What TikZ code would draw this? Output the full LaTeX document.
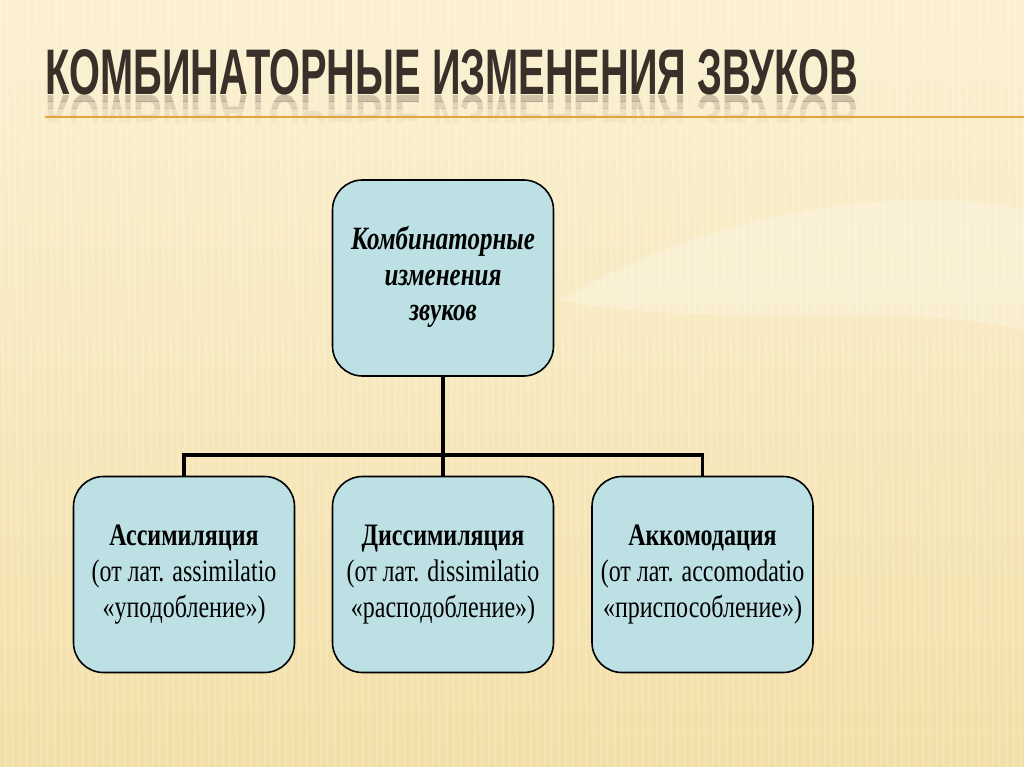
\documentclass[tikz,border=0pt]{standalone}
\usepackage{fontspec}
\setmainfont{Liberation Serif}
\newfontfamily\titlefont{Liberation Sans}
\usepackage{graphicx}
\definecolor{bgtop}{HTML}{FBF1D2}
\definecolor{bgbot}{HTML}{F3DFA8}
\definecolor{boxfill}{HTML}{BCE0E4}
\definecolor{titlecol}{HTML}{3A2F29}
\definecolor{rule}{HTML}{E6A53C}
\newcommand{\tallstack}[1]{\scalebox{1}[1.3]{\begin{tabular}{@{}c@{}}#1\end{tabular}}}
\newcommand{\titletext}{\resizebox{813pt}{45pt}{\titlefont\bfseries КОМБИНАТОРНЫЕ ИЗМЕНЕНИЯ ЗВУКОВ}}
\tikzset{
  box/.style={draw=black, line width=1.6pt, fill=boxfill, rounded corners=30pt,
    minimum width=221pt, minimum height=196pt, align=center, text=black,
    font=\fontsize{24}{27.5}\selectfont},
  topbox/.style={box, font=\fontsize{25}{27.5}\selectfont\bfseries\itshape},
  link/.style={line width=3.5pt, black},
}
\begin{document}
\begin{tikzpicture}[x=1pt,y=-1pt]
\useasboundingbox (0,0) rectangle (1024,767);
% background
\shade[top color=bgtop, bottom color=bgbot] (0,0) rectangle (1024,767);
\fill[white, opacity=0.25] (560,300) .. controls (750,190) and (950,190) .. (1024,210) -- (1024,330) .. controls (900,300) and (700,330) .. (560,300) -- cycle;
\foreach \i in {0,7,...,1024} {
  \draw[white, opacity=0.22, line width=1.5pt] (\i,0) -- (\i+6,767);
}
% title
\node[anchor=south west, inner sep=0pt, text=titlecol] (title) at (45,95) {\titletext};
\foreach \a/\b/\o in {95/102/0.24, 102/109/0.15, 109/116/0.08, 116/123/0.04} {
  \begin{scope}
  \clip (40,\a) rectangle (870,\b);
  \node[anchor=north west, inner sep=0pt, text=titlecol, opacity=\o] at (45,95)
    {\scalebox{1}[-1]{\titletext}};
  \end{scope}
}
\draw[rule, line width=2.5pt] (45,117) -- (1024,117);
% boxes
\node[topbox] (top) at (443,278) {\tallstack{Комбинаторные\\изменения\\звуков}};
\node[box] (left) at (184,574.5) {\tallstack{\textbf{Ассимиляция}\\(от лат. assimilatio\\«уподобление»)}};
\node[box] (mid) at (443,574.5) {\tallstack{\textbf{Диссимиляция}\\(от лат. dissimilatio\\«расподобление»)}};
\node[box] (right) at (702.5,574.5) {\tallstack{\textbf{Аккомодация}\\(от лат. accomodatio\\«приспособление»)}};
% connectors
\coordinate (bar) at (443,455);
\draw[link] (top.south) -- (mid.north);
\draw[link] (left.north) |- (bar) -| (right.north);
\end{tikzpicture}
\end{document}
